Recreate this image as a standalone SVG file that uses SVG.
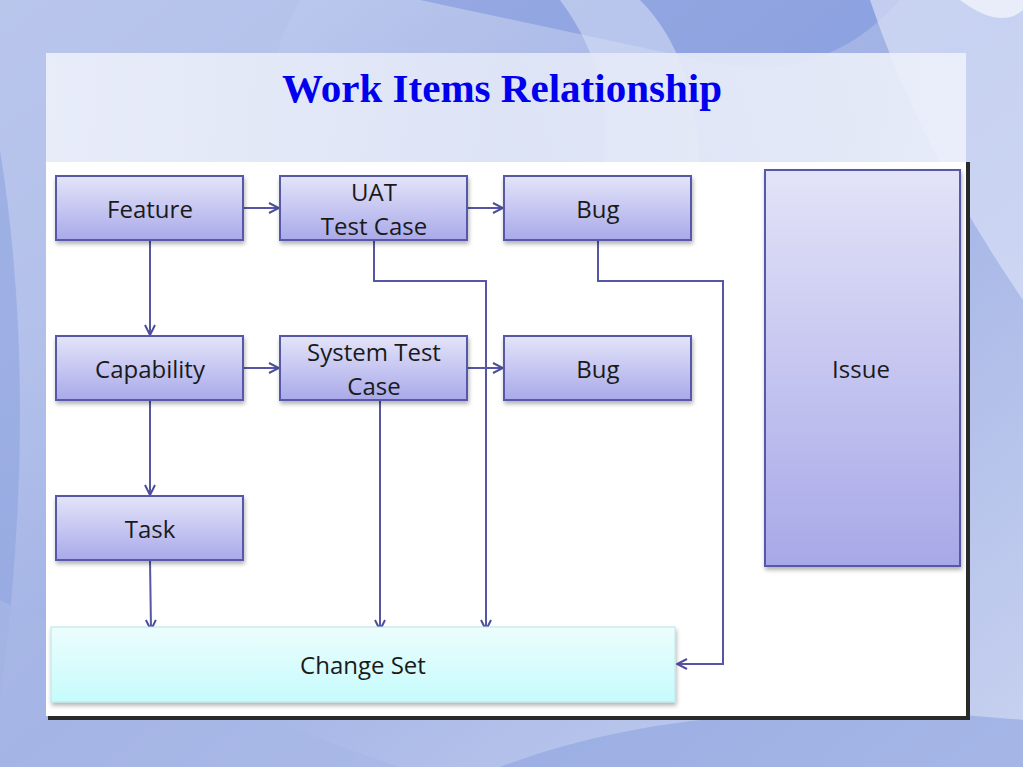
<svg xmlns="http://www.w3.org/2000/svg" width="1023" height="767" viewBox="0 0 1023 767">
<defs>
<linearGradient id="bg" x1="0" y1="0" x2="1" y2="1">
<stop offset="0" stop-color="#c5d0f0"/>
<stop offset="0.5" stop-color="#9fb0e4"/>
<stop offset="1" stop-color="#c8d2f0"/>
</linearGradient>
<linearGradient id="node" x1="0" y1="0" x2="0" y2="1">
<stop offset="0" stop-color="#e4e4f9"/>
<stop offset="1" stop-color="#a9a9ea"/>
</linearGradient>
<linearGradient id="issue" x1="0" y1="0" x2="0" y2="1">
<stop offset="0" stop-color="#e3e3f8"/>
<stop offset="1" stop-color="#a8a8e8"/>
</linearGradient>
<linearGradient id="cs" x1="0" y1="0" x2="0" y2="1">
<stop offset="0" stop-color="#ecfdfd"/>
<stop offset="1" stop-color="#c6fbfc"/>
</linearGradient>
<linearGradient id="panel" x1="0" y1="0" x2="1" y2="0">
<stop offset="0" stop-color="#eef1fb"/>
<stop offset="0.5" stop-color="#e2e8f7"/>
<stop offset="1" stop-color="#eef1fb"/>
</linearGradient>
<marker id="arr" viewBox="0 0 12 12" refX="11" refY="6" markerWidth="12" markerHeight="12" markerUnits="userSpaceOnUse" orient="auto">
<path d="M1,1 L11,6 L1,11" fill="none" stroke="#4d4d9e" stroke-width="2"/>
</marker>
<filter id="sh" x="-10%" y="-10%" width="130%" height="140%">
<feDropShadow dx="1" dy="3" stdDeviation="2" flood-color="#000" flood-opacity="0.3"/>
</filter>
</defs>
<style>
.n{fill:url(#node);stroke:#5858a8;stroke-width:2;filter:url(#sh)}
.t{font-family:"Open Sans","Noto Sans",sans-serif;font-size:24px;fill:#1a1a1a;text-anchor:middle}
.c{fill:none;stroke:#5656a2;stroke-width:2;marker-end:url(#arr)}
</style>
<!-- background -->
<rect width="1023" height="767" fill="url(#bg)"/>
<path d="M0,0 L300,0 Q230,120 320,250 L0,350 Z" fill="#b3c1ea" opacity="0.7"/>
<path d="M420,0 L900,0 Q820,90 700,60 Q560,30 420,0 Z" fill="#7f96dc" opacity="0.6"/>
<path d="M560,0 Q620,80 600,180 L700,180 Q700,60 640,0 Z" fill="#dfe6f8" opacity="0.5"/>
<path d="M870,0 L1023,0 L1023,300 Q920,150 870,0 Z" fill="#d8e0f6" opacity="0.7"/>
<path d="M0,150 Q40,400 0,700 Z" fill="#8ea3e0" opacity="0.6"/>
<path d="M0,600 Q200,700 400,767 L0,767 Z" fill="#a6b6e6" opacity="0.7"/>
<path d="M500,767 Q700,690 1023,720 L1023,767 Z" fill="#8ea3e0" opacity="0.6"/>
<path d="M960,0 Q1000,30 1023,10 L1023,0 Z" fill="#ffffff" opacity="0.6"/>
<!-- panel -->
<rect x="46" y="53" width="920" height="110" fill="url(#panel)" opacity="0.9"/>
<rect x="48" y="162" width="922" height="558" fill="#2a2a2a"/>
<rect x="46" y="162" width="920" height="554" fill="#ffffff"/>
<text x="502" y="102" font-family="'Liberation Serif',serif" font-weight="bold" font-size="40" fill="#0000ee" text-anchor="middle" textLength="440" lengthAdjust="spacingAndGlyphs">Work Items Relationship</text>
<!-- connectors -->
<g id="connectors">
<path class="c" d="M243,208 H279"/>
<path class="c" d="M467,208 H503"/>
<path class="c" d="M150,240 V335"/>
<path class="c" d="M243,368 H279"/>
<path class="c" d="M467,368 H503"/>
<path class="c" d="M150,400 V495"/>
<path class="c" d="M150,560 L151,630"/>
<path class="c" d="M380,400 V630"/>
<path class="c" d="M374,240 V281 H486 V630"/>
<path class="c" d="M598,240 V281 H723 V664 H677"/>
</g>
<!-- nodes -->
<g id="feature"><rect class="n" x="56" y="176" width="187" height="64"/><text class="t" x="150" y="218">Feature</text></g>
<g id="uat"><rect class="n" x="280" y="176" width="187" height="64"/><text class="t" x="374" y="201">UAT</text><text class="t" x="374" y="235">Test Case</text></g>
<g id="bug1"><rect class="n" x="504" y="176" width="187" height="64"/><text class="t" x="598" y="218">Bug</text></g>
<g id="capability"><rect class="n" x="56" y="336" width="187" height="64"/><text class="t" x="150" y="378">Capability</text></g>
<g id="systemtest"><rect class="n" x="280" y="336" width="187" height="64"/><text class="t" x="374" y="361">System Test</text><text class="t" x="374" y="395">Case</text></g>
<g id="bug2"><rect class="n" x="504" y="336" width="187" height="64"/><text class="t" x="598" y="378">Bug</text></g>
<g id="task"><rect class="n" x="56" y="496" width="187" height="64"/><text class="t" x="150" y="538">Task</text></g>
<g id="issue"><rect x="765" y="170" width="195" height="396" fill="url(#issue)" stroke="#5858a8" stroke-width="2" filter="url(#sh)"/><text class="t" x="861" y="378">Issue</text></g>
<g id="changeset"><rect x="51" y="627" width="624" height="75" fill="url(#cs)" stroke="#b8e6ea" stroke-width="1" filter="url(#sh)"/><text class="t" x="363" y="674">Change Set</text></g>
</svg>
